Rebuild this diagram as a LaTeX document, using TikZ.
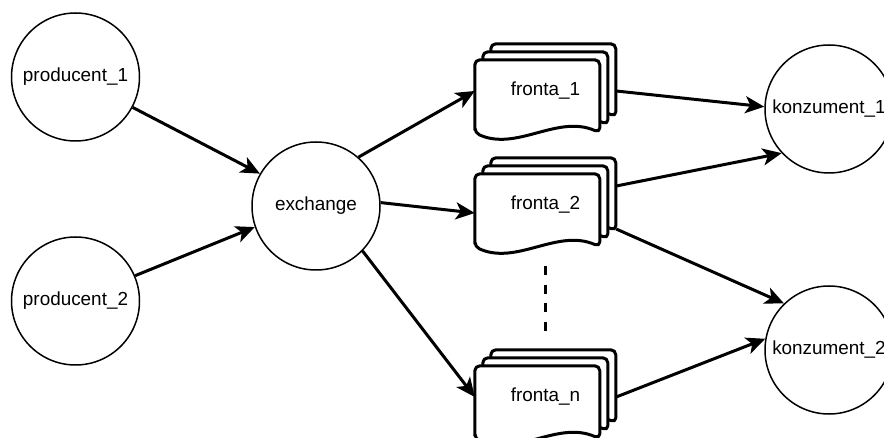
\documentclass[tikz,border=0pt]{standalone}
\usepackage{fontspec}
\setmainfont{Liberation Sans}
\usetikzlibrary{arrows.meta,calc,backgrounds}

\begin{document}
\begin{tikzpicture}[
  x=1pt,y=-1pt,
  font=\fontsize{18.9}{22}\selectfont,
  proc/.style={draw,circle,line width=1.5pt,minimum size=128pt,inner sep=0pt},
  queue/.style={minimum width=141pt,minimum height=94pt,inner sep=0pt},
  page/.style={draw,line width=3pt,fill=white,rounded corners=5pt,line join=round},
  arr/.style={-{Stealth[length=19pt,width=17pt,inset=5pt]},line width=3pt},
  dots/.style={line width=3pt,dash pattern=on 9pt off 9.5pt}
]
\useasboundingbox (0,0) rectangle (884,438);

\node[proc] (p1) at (75.5,77) {producent\_1};
\node[proc] (p2) at (75.5,301) {producent\_2};
\node[proc] (ex) at (316,206) {exchange};
\node[queue] (f1) at (545.5,91) {fronta\_1};
\node[queue] (f2) at (545.5,205) {fronta\_2};
\node[queue] (fn) at (545.5,397) {fronta\_n};
\node[proc] (k1) at (829,109) {konzument\_1};
\node[proc] (k2) at (829,350) {konzument\_2};

% stacked pages behind each queue label
\begin{scope}[on background layer]
  \foreach \q in {f1,f2,fn}
    \foreach \k in {2,1,0}
      \draw[page,shift={($(\q.north west)+(8*\k,16-8*\k)$)}]
        (0,73) -- (0,0) -- (125,0) -- (125,73)
        .. controls (83,54) and (42,92) .. cycle;
\end{scope}

\draw[arr] (p1.-28) -- (ex.150);
\draw[arr] (p2.23) -- (ex.-161);
\draw[arr] (ex.49) -- (f1.west);
\draw[arr] (ex.3) -- ([yshift=-8pt]f2.west);
\draw[arr] (ex.-44) -- (fn.west);
\draw[dots,shorten <=14pt,shorten >=18pt] (f2.south) -- (fn.north);
\draw[arr] (f1.east) -- (k1.178);
\draw[arr] ([yshift=19pt]f2.east) -- (k1.223);
\draw[arr] ([yshift=-24pt]f2.east) -- (k2.134);
\draw[arr] (fn.east) -- (k2.170);
\end{tikzpicture}
\end{document}
